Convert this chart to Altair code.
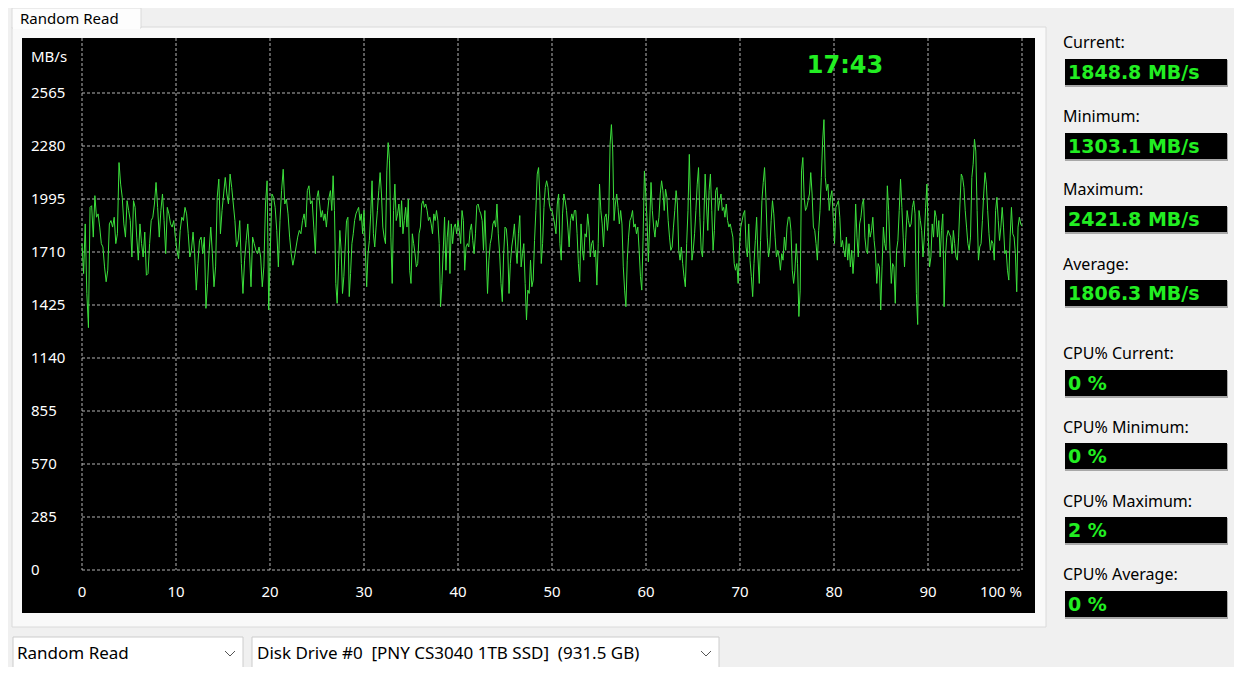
import altair as alt
import numpy as np
import pandas as pd

FONT = "Noto Sans"
MONO_BOLD = "DejaVu Sans"
GREEN = "#22ee22"
LINE_GREEN = "#3ce03c"
GRID = "#b4b4b4"

# MB/s samples, one list per quarter of the run
SEG_0_25 = [
    1755, 1594, 1861, 1487, 1303.1, 1950, 1959, 1790, 2013, 1897, 1915, 1844, 1755, 1737, 1630,
    1550, 1612, 1861, 1879, 1844, 1897, 1755, 1808, 2191, 2075, 2004, 1861, 1790, 1986, 1933,
    1879, 1683, 1986, 1950, 1790, 1666, 1861, 1755, 1683, 1817, 1585, 1594, 1755, 1879, 1897,
    1968, 2084, 1950, 1790, 1933, 2022, 1879, 1701, 1950, 1915, 1861, 1844, 1879, 1790, 1719,
    1674, 1826, 1897, 1879, 1950, 1915, 1808, 1683, 1719, 1817, 1701, 1505, 1648, 1772, 1790,
    1701, 1790, 1407, 1541, 1719, 1844, 1701, 1523, 1630, 2004, 2102, 1808, 1933, 2022, 2111,
    2022, 1968, 2129, 2057, 1968, 1879, 1737, 1772, 1879, 1648, 1487, 1666, 1772, 1861, 1719,
    1523, 1790, 1755, 1719, 1701, 1737, 1683, 1523, 1630, 1968, 2093, 1398, 1719, 2022, 2004,
    1950, 1826, 1630, 1879, 2040, 2155, 1968, 1995, 1915, 1790, 1701, 1639, 1683, 1737, 1790,
    1826, 1808, 1879, 1915, 1844, 2040, 2066, 1968, 1986, 1844, 1701,
]
SEG_25_50 = [
    2004, 2040, 1968, 1897, 1933, 1879, 1915, 1844, 1933, 2004, 2040, 1933, 2120, 1933, 1541,
    1434, 1630, 1826, 1719, 1487, 1577, 1737, 1879, 1897, 1470, 1594, 1755, 1808, 1879, 1915,
    1933, 1950, 1879, 1915, 1808, 1933, 1719, 1523, 1701, 1772, 1915, 2093, 1808, 1737, 1844,
    1933, 2040, 2137, 2022, 1844, 1790, 1755, 2146, 2298, 2200, 1790, 1541, 1933, 2075, 1879,
    1915, 1968, 1844, 1986, 1808, 1879, 1950, 1844, 1995, 1612, 1541, 1808, 1755, 1701, 1630,
    1648, 1808, 1844, 1968, 1986, 1950, 1968, 1933, 1879, 1897, 1861, 1808, 1915, 1879, 1933,
    1879, 1755, 1416, 1541, 1719, 1897, 1612, 1790, 1879, 1594, 1861, 1755, 1844, 1861, 1808,
    1879, 1826, 1755, 1933, 1879, 1612, 1737, 1755, 1737, 1826, 1861, 1772, 1701, 1808, 1959,
    1968, 1933, 1915, 1879, 1719, 1933, 1719, 1487, 1666, 1755, 1790, 1861, 1879, 1844, 1968,
    1808, 1701, 1541, 1443, 1701, 1844, 1835, 1737, 1487, 1648, 1737, 1790, 1861, 1737, 1648,
    1808, 1906, 1630, 1701, 1755, 1541, 1345, 1505, 1487, 1666, 1523, 1559, 1772, 1933, 2129,
    2164, 2004, 1648, 1755, 1950, 2057, 2093, 2057, 1968, 1933,
]
SEG_50_75 = [
    1933, 1897, 1861, 1808, 1968, 2022, 1755, 1666, 1915, 2022, 1986, 1933, 1844, 1737, 1879,
    1915, 1879, 1933, 1933, 1808, 1648, 1550, 1861, 1719, 1666, 1808, 1790, 1915, 1844, 1683,
    1755, 1772, 1683, 1719, 1532, 1755, 2075, 1933, 1861, 1737, 1897, 1915, 1826, 1915, 2289,
    2395, 2253, 1879, 1968, 2022, 1950, 1861, 1933, 1861, 1630, 1505, 1416, 1666, 1790, 1879,
    1897, 1933, 1844, 1861, 1808, 1844, 1719, 1577, 1505, 1790, 2146, 2022, 1879, 1657, 1861,
    2084, 1933, 1844, 1790, 1879, 1844, 1897, 2022, 2093, 2040, 1933, 2048, 2004, 1879, 1790,
    1719, 1737, 1844, 1933, 2040, 1968, 1719, 1666, 1737, 1648, 1577, 1523, 1755, 1933, 2235,
    1968, 1666, 1719, 1808, 1933, 2075, 2164, 1897, 1719, 1683, 1879, 2129, 1968, 1826, 2040,
    2129, 1933, 1719, 1826, 2040, 2057, 1933, 1986, 2022, 1933, 1950, 1897, 1968, 1879, 1844,
    1861, 1826, 1790, 1648, 1612, 1648, 1541, 1737, 1844, 1879, 1915, 1933, 1737, 1683, 1861,
    1666, 1577, 1470, 1648, 1772, 1897, 1683, 1541, 1772, 1986, 2084, 2164, 2004, 1790, 1683,
    1737, 1879, 1986, 1915, 1790, 1683, 1719, 1683, 1612, 1701, 1666, 1790, 1719,
]
SEG_75_100 = [
    1844, 1897, 1897, 1826, 1612, 1541, 1612, 1755, 1648, 1363, 1505, 2146, 2218, 2004, 1933,
    1950, 1986, 2022, 2137, 2022, 1844, 1826, 1755, 1666, 1826, 1933, 2111, 2307, 2421.8, 2111,
    2040, 2075, 1933, 2004, 2040, 1897, 1755, 1950, 1968, 1986, 1897, 1737, 1772, 1719, 1683,
    1790, 1666, 1755, 1630, 1719, 1594, 1701, 1968, 1790, 1683, 1861, 1897, 1968, 1995, 1790,
    1719, 1701, 1861, 1790, 1826, 1897, 1772, 1701, 1541, 1648, 1630, 1398, 1630, 1844, 1755,
    1719, 2066, 1933, 1719, 1541, 1648, 1630, 1434, 1719, 1772, 1933, 2102, 1950, 1790, 1630,
    1790, 1933, 1879, 1844, 1861, 1950, 1986, 1915, 1487, 1320, 1933, 1879, 1826, 1683, 1790,
    1950, 2075, 1790, 1630, 1683, 1861, 1790, 1933, 1897, 1790, 1879, 1683, 1826, 1915, 1416,
    1683, 1790, 1826, 1808, 1790, 1701, 1826, 1755, 1683, 1666, 1790, 1968, 2129, 2111, 2057,
    1933, 1844, 1755, 1719, 1790, 2111, 2182, 2316, 2253, 1933, 1666, 1737, 1755, 1879, 2022,
    2137, 2075, 1933, 1808, 1719, 1772, 1755, 1666, 1933, 2004, 1879, 1772, 1844, 1950, 1844,
    1701, 1719, 1612, 1559, 1790, 1950, 1808, 1790, 1701, 1496, 1844, 1897, 1861, 1848.8,
]

Y_TICKS = [0, 285, 570, 855, 1140, 1425, 1710, 1995, 2280, 2565]
X_TICKS = [0, 10, 20, 30, 40, 50, 60, 70, 80, 90, 100]
X_LABELS = ["0", "10", "20", "30", "40", "50", "60", "70", "80", "90", "100 %"]
UNIT = "MB/s"
CLOCK = "17:43"
TAB_TITLE = "Random Read"
MODE = "Random Read"
DRIVE = "Disk Drive #0\u00a0\u00a0[PNY CS3040 1TB SSD]\u00a0\u00a0(931.5 GB)"
STAT_LABELS = [
    "Current:", "Minimum:", "Maximum:", "Average:",
    "CPU% Current:", "CPU% Minimum:", "CPU% Maximum:", "CPU% Average:",
]
STAT_VALUES = [
    "1848.8 MB/s", "1303.1 MB/s", "2421.8 MB/s", "1806.3 MB/s",
    "0 %", "0 %", "2 %", "0 %",
]

# layout (canvas pixels)
X_RANGE = [74, 1014]
Y_RANGE = [562, 85]
STAT_LABEL_Y = [35, 109, 182, 257, 346, 420, 494, 567]
STAT_BOX_TOP = [51, 125, 198, 272, 362, 435, 509, 583]

frames = []
segments = [SEG_0_25, SEG_25_50, SEG_50_75, SEG_75_100]
for i, seg in enumerate(segments):
    pct = np.linspace(25 * i, 25 * (i + 1), len(seg), endpoint=(i == 3))
    frames.append(pd.DataFrame({"pct": pct, "mbps": seg}))
trace = pd.concat(frames, ignore_index=True)

one = pd.DataFrame({"k": [0]})
xs = alt.Scale(domain=[0, 100], range=X_RANGE, nice=False, zero=False)
ys = alt.Scale(domain=[0, 2565], range=Y_RANGE, nice=False, zero=False)


def rect(x, x2, y, y2, fill, stroke=None):
    opts = {"fill": fill}
    if stroke:
        opts.update(stroke=stroke, strokeWidth=1)
    return alt.Chart(one).mark_rect(**opts).encode(
        x=alt.value(x), x2=alt.value(x2), y=alt.value(y), y2=alt.value(y2)
    )


def text(x, y, s, size=16, color="black", font=FONT, weight="normal", align="left"):
    return alt.Chart(one).mark_text(
        font=font, fontSize=size, color=color, fontWeight=weight,
        align=align, baseline="middle",
    ).encode(x=alt.value(x), y=alt.value(y), text=alt.value(s))


def chevron(cx, cy):
    left = alt.Chart(one).mark_rule(color="#555555", strokeWidth=1).encode(
        x=alt.value(cx - 5), y=alt.value(cy - 3), x2=alt.value(cx), y2=alt.value(cy + 2)
    )
    right = alt.Chart(one).mark_rule(color="#555555", strokeWidth=1).encode(
        x=alt.value(cx), y=alt.value(cy + 2), x2=alt.value(cx + 5), y2=alt.value(cy - 3)
    )
    return [left, right]


layers = [
    rect(4, 1038, 19, 619, "#f9f9f9", "#dadada"),
    rect(4, 133, 0, 20, "#fdfdfd", "#dadada"),
    rect(5, 132, 18, 21, "#fdfdfd"),
    text(12, 11, TAB_TITLE, size=15),
    rect(14, 1027, 30, 605, "#000000"),
]

hgrid = (
    alt.Chart(pd.DataFrame({"v": Y_TICKS}))
    .mark_rule(color=GRID, strokeDash=[3, 2], strokeWidth=1)
    .encode(y=alt.Y("v:Q", scale=ys, axis=None), x=alt.value(X_RANGE[0]), x2=alt.value(X_RANGE[1]))
)
vgrid = (
    alt.Chart(pd.DataFrame({"p": X_TICKS}))
    .mark_rule(color=GRID, strokeDash=[3, 2], strokeWidth=1)
    .encode(x=alt.X("p:Q", scale=xs, axis=None), y=alt.value(30), y2=alt.value(Y_RANGE[0]))
)
ylabels = (
    alt.Chart(pd.DataFrame({"v": Y_TICKS, "t": [str(v) for v in Y_TICKS]}))
    .mark_text(font=FONT, fontSize=15, color="white", align="left", baseline="middle")
    .encode(y=alt.Y("v:Q", scale=ys, axis=None), x=alt.value(23), text="t:N")
)
xdf = pd.DataFrame({"p": X_TICKS, "t": X_LABELS})
xlabels = (
    alt.Chart(xdf.iloc[:-1])
    .mark_text(font=FONT, fontSize=15, color="white", align="center", baseline="middle")
    .encode(x=alt.X("p:Q", scale=xs, axis=None), y=alt.value(584), text="t:N")
)
xlast = (
    alt.Chart(xdf.iloc[-1:])
    .mark_text(font=FONT, fontSize=15, color="white", align="right", baseline="middle")
    .encode(x=alt.X("p:Q", scale=xs, axis=None), y=alt.value(584), text="t:N")
)
line = (
    alt.Chart(trace)
    .mark_line(color=LINE_GREEN, strokeWidth=1, interpolate="linear")
    .encode(
        x=alt.X("pct:Q", scale=xs, axis=None),
        y=alt.Y("mbps:Q", scale=ys, axis=None),
        order="pct:Q",
    )
)

layers += [hgrid, vgrid, line, ylabels, xlabels, xlast,
           text(23, 49, UNIT, size=15, color="white"),
           text(837, 58, CLOCK, size=24, color=GREEN, font=MONO_BOLD, weight="bold", align="center")]

for i, (lab, val) in enumerate(zip(STAT_LABELS, STAT_VALUES)):
    top = STAT_BOX_TOP[i]
    layers += [
        text(1055, STAT_LABEL_Y[i], lab, size=16),
        rect(1057, 1220, top + 1, top + 28, "#a8a8a8"),
        rect(1057, 1219, top, top + 26, "#000000"),
        text(1060, top + 14, val, size=19, color=GREEN, font=MONO_BOLD, weight="bold"),
    ]

layers += [
    rect(5, 235, 629, 661, "#ffffff", "#cccccc"),
    text(9, 646, MODE, size=17),
    rect(244, 711, 629, 661, "#ffffff", "#cccccc"),
    text(249, 646, DRIVE, size=17),
]
layers += chevron(222, 646) + chevron(698, 646)

chart = (
    alt.layer(*layers)
    .properties(width=1226, height=659, background="#f0f0f0", padding=0,
                autosize=alt.AutoSizeParams(type="none"))
    .configure_view(stroke=None, fill="#f0f0f0")
)

chart.save("out.html", embed_options={"renderer": "svg", "actions": False})
